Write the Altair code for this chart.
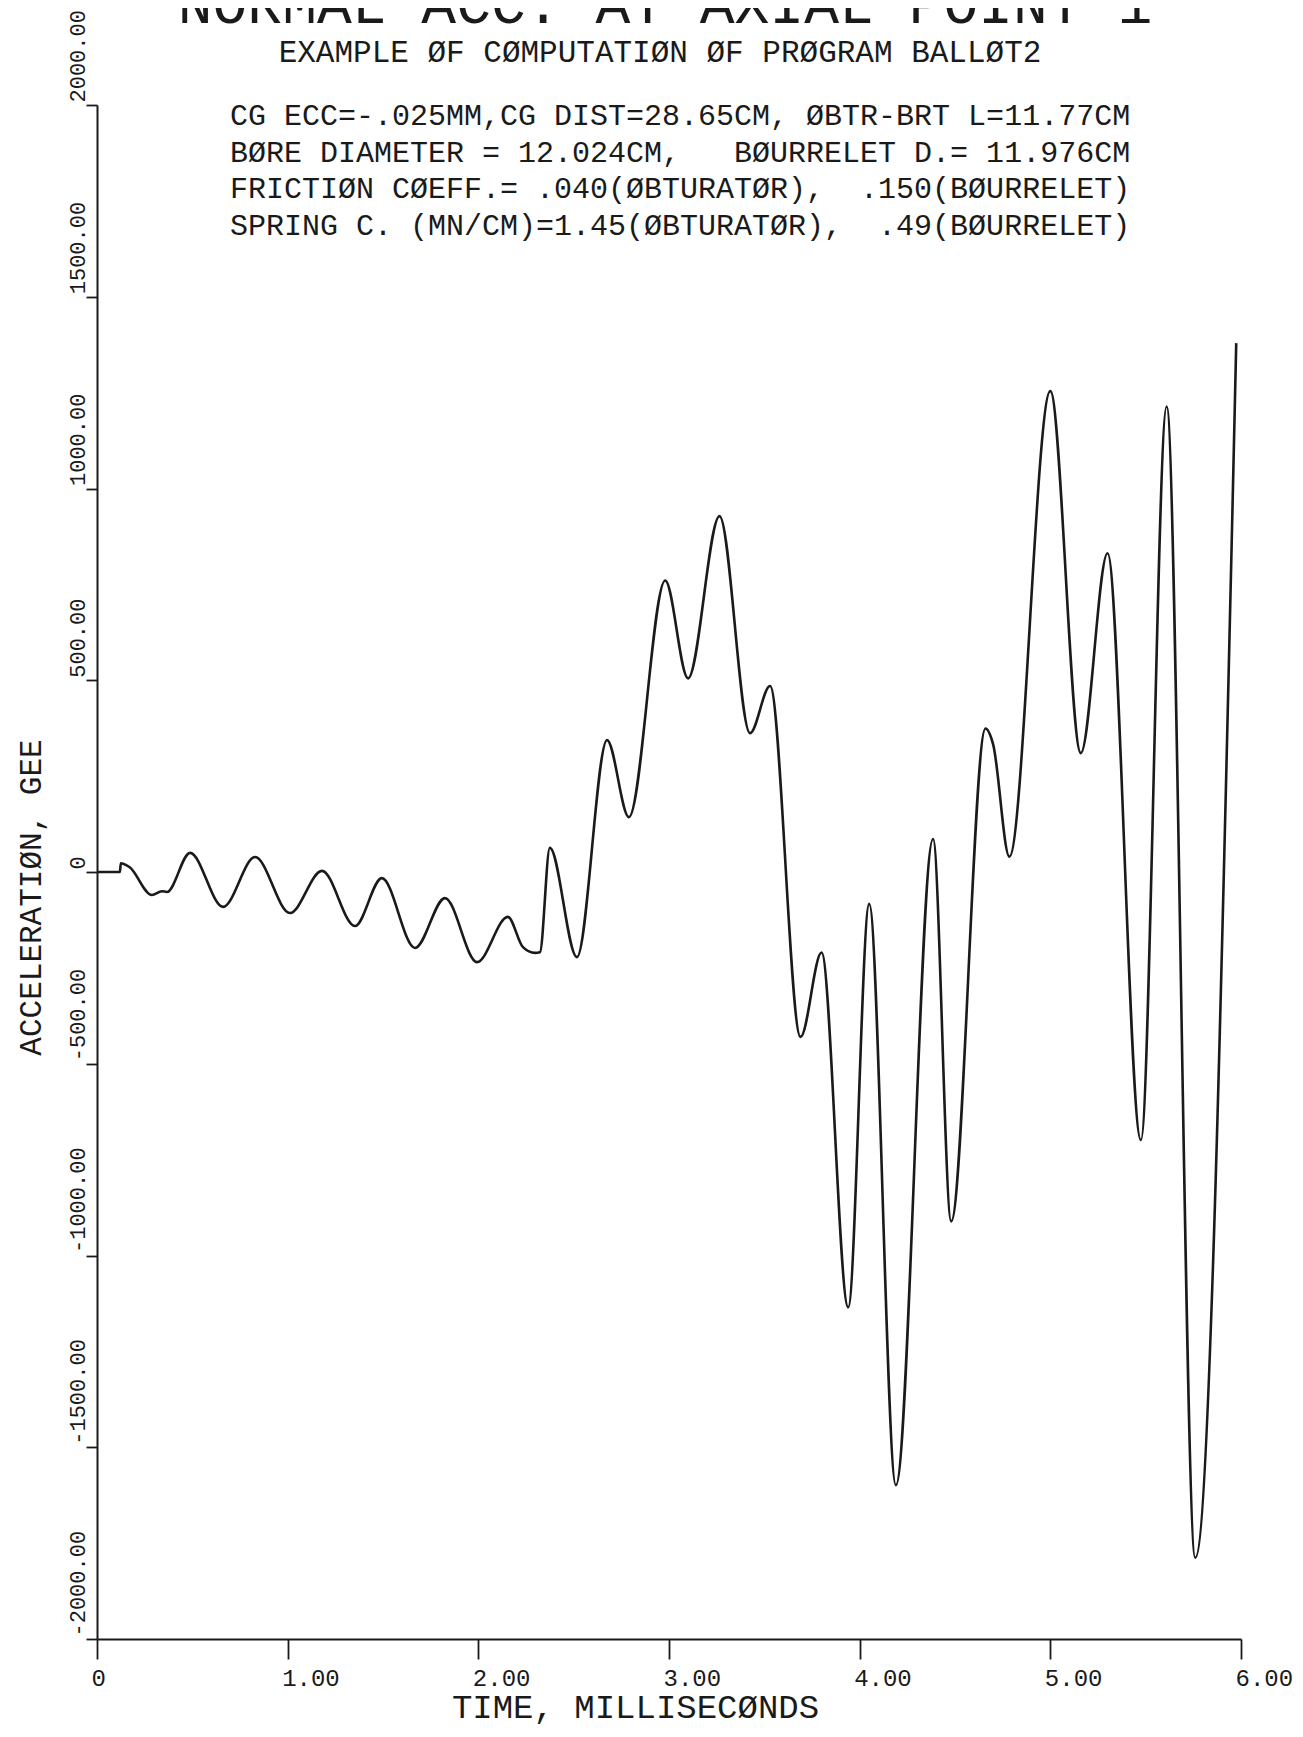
import altair as alt
import pandas as pd

# ---- data ----
TIME_MS = [0.0, 0.12, 0.125, 0.17, 0.288, 0.34, 0.367, 0.488, 0.661, 0.829,
           1.012, 1.18, 1.353, 1.494, 1.668, 1.825, 1.993, 2.155, 2.234, 2.297,
           2.323, 2.375, 2.517, 2.675, 2.79, 2.98, 3.10, 3.265, 3.425, 3.53,
           3.69, 3.80, 3.94, 4.05, 4.19, 4.385, 4.48, 4.66, 4.70, 4.785,
           5.00, 5.16, 5.30, 5.475, 5.61, 5.76, 5.975]
ACCEL_GEE = [0, 0, 23, 13, -60, -50, -52, 50, -91, 39,
             -107, 3, -141, -16, -198, -68, -235, -117, -196, -211,
             -209, 63, -222, 344, 143, 760, 505, 928, 362, 485,
             -430, -210, -1135, -83, -1599, 86, -911, 374, 333, 40,
             1254, 310, 831, -699, 1214, -1788, 1379]

X_TICKS = [0, 1, 2, 3, 4, 5, 6]
Y_TICKS = [-2000, -1500, -1000, -500, 0, 500, 1000, 1500, 2000]

NB = "\u00a0"  # non-breaking space keeps runs of blanks in SVG text
TITLE = "NORMAL ACC. AT AXIAL POINT 1"
SUBTITLE = "EXAMPLE ØF CØMPUTATIØN ØF PRØGRAM BALLØT2"
NOTES = [
    "CG ECC=-.025MM,CG DIST=28.65CM," + NB + "ØBTR-BRT L=11.77CM",
    "BØRE DIAMETER = 12.024CM," + NB * 3 + "BØURRELET D.= 11.976CM",
    "FRICTIØN CØEFF.= .040(ØBTURATØR)," + NB * 2 + ".150(BØURRELET)",
    "SPRING C. (MN/CM)=1.45(ØBTURATØR)," + NB * 2 + ".49(BØURRELET)",
]
X_TITLE = "TIME, MILLISECØNDS"
Y_TITLE = "ACCELERATIØN, GEE"

FONT = "Liberation Mono, DejaVu Sans Mono, monospace"
INK = "#1a1a1a"
W, H = 1144, 1534

df = pd.DataFrame({"t": TIME_MS, "a": ACCEL_GEE})

line = alt.Chart(df).mark_line(
    interpolate="monotone", color=INK, strokeWidth=2.6
).encode(
    x=alt.X(
        "t:Q",
        scale=alt.Scale(domain=[0, 6], nice=False, zero=False),
        axis=alt.Axis(
            values=X_TICKS,
            labelExpr="datum.value == 0 ? '0' : format(datum.value, '.2f')",
            title=X_TITLE,
            grid=False,
            tickSize=20, tickWidth=1.8, tickColor=INK,
            domainWidth=2, domainColor=INK,
            labelFont=FONT, labelFontSize=24, labelColor=INK,
            labelAlign="left", labelBaseline="top", labelOffset=-6,
            labelPadding=7, labelFlush=False, labelOverlap=False,
            titleFont=FONT, titleFontSize=34, titleFontWeight="normal",
            titleColor=INK, titleX=538, titleY=78, titleAlign="center",
            titleBaseline="alphabetic",
        ),
    ),
    y=alt.Y(
        "a:Q",
        scale=alt.Scale(domain=[-2000, 2000], nice=False, zero=False),
        axis=alt.Axis(
            values=Y_TICKS,
            labelExpr="datum.value == 0 ? '0' : (datum.value < 0 ? '-' : '') + format(abs(datum.value), '.2f')",
            title=Y_TITLE,
            grid=False,
            tickSize=11, tickWidth=1.8, tickColor=INK,
            domainWidth=2, domainColor=INK,
            labelFont=FONT, labelFontSize=22, labelColor=INK,
            labelAngle=270, labelAlign="left", labelBaseline="middle",
            labelOffset=-3, labelPadding=9, labelFlush=False,
            labelOverlap=False,
            titleFont=FONT, titleFontSize=31, titleFontWeight="normal",
            titleColor=INK, titleAngle=270, titleX=-66, titleY=792,
            titleAlign="center", titleBaseline="middle",
        ),
    ),
)


def text_layer(txt, x, y, size, align="left", baseline="middle"):
    return alt.Chart(pd.DataFrame({"label": [txt]})).mark_text(
        font=FONT, fontSize=size, align=align, baseline=baseline, color=INK
    ).encode(text="label:N", x=alt.value(x), y=alt.value(y))


layers = [line]
layers.append(text_layer(TITLE, 568, -82, 58, align="center", baseline="alphabetic"))
layers.append(text_layer(SUBTITLE, 563, -52, 31, align="center"))
NOTE_Y = [11, 48, 84, 121]
for txt, yy in zip(NOTES, NOTE_Y):
    layers.append(text_layer(txt, 133, yy, 30))

chart = alt.layer(*layers).properties(
    width=W,
    height=H,
    autosize=alt.AutoSizeParams(type="none"),
    padding={"left": 89, "top": 97, "right": 54, "bottom": 88},
    background="white",
).configure_view(stroke=None)

chart.save("out.html", embed_options={"renderer": "svg", "actions": False})
